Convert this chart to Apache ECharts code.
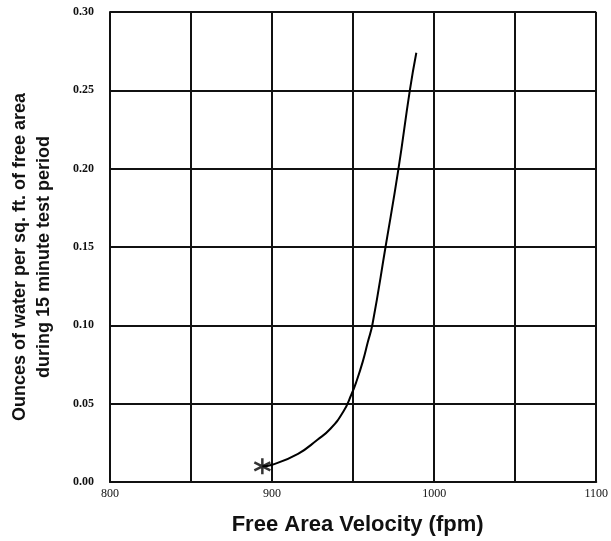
<!DOCTYPE html>
<html>
<head>
<meta charset="utf-8">
<script src="https://cdn.jsdelivr.net/npm/echarts@6/dist/echarts.min.js"></script>
<style>
html,body{margin:0;padding:0;background:#fff;}
#chart{width:611px;height:541px;}
</style>
</head>
<body>
<div id="chart"></div>
<script>
// Data
var velocity = [894, 900, 916, 928, 936, 944, 949, 952, 956, 959, 962, 970, 978, 985, 989];
var water = [0.010, 0.011, 0.018, 0.027, 0.034, 0.045, 0.056, 0.064, 0.077, 0.089, 0.101, 0.150, 0.200, 0.250, 0.274];
var startPoint = [894, 0.010];
var xTicks = [800, 900, 1000, 1100];
var yTicks = [0.00, 0.05, 0.10, 0.15, 0.20, 0.25, 0.30];

var curve = velocity.map(function (v, i) { return [v, water[i]]; });

var chart = echarts.init(document.getElementById('chart'));
chart.setOption({
  animation: false,
  backgroundColor: '#fff',
  grid: { left: 106.5, right: 11.5, top: 12, bottom: 59, containLabel: false },
  xAxis: {
    type: 'value',
    min: 800, max: 1100, interval: 50,
    name: 'Free Area Velocity (fpm)',
    nameLocation: 'middle',
    nameGap: 32,
    nameTextStyle: { fontFamily: 'Liberation Sans', fontWeight: 'bold', fontSize: 22, color: '#111', padding: [0, 0, 0, 9] },
    axisLine: { lineStyle: { color: '#111', width: 2 } },
    axisTick: { show: false },
    splitLine: { show: true, lineStyle: { color: '#111', width: 2 } },
    axisLabel: {
      margin: 6,
      fontFamily: 'Liberation Serif', fontSize: 12, color: '#111',
      formatter: function (v) { return xTicks.indexOf(v) >= 0 ? String(v) : ''; }
    }
  },
  yAxis: {
    type: 'value',
    min: 0, max: 0.3, interval: 0.05,
    name: 'Ounces of water per sq. ft. of free area\nduring 15 minute test period',
    nameLocation: 'middle',
    nameGap: 54,
    nameTextStyle: { fontFamily: 'Liberation Sans', fontWeight: 'bold', fontSize: 18, lineHeight: 24, color: '#111', padding: [0, 20, 0, 0] },
    axisLine: { lineStyle: { color: '#111', width: 2 } },
    axisTick: { show: false },
    splitLine: { show: true, lineStyle: { color: '#111', width: 2 } },
    axisLabel: {
      margin: 16,
      fontFamily: 'Liberation Serif', fontWeight: 'bold', fontSize: 12, color: '#111',
      formatter: function (v) {
        for (var i = 0; i < yTicks.length; i++) { if (Math.abs(yTicks[i] - v) < 1e-9) return yTicks[i].toFixed(2); }
        return '';
      }
    }
  },
  series: [
    {
      type: 'line',
      data: curve,
      smooth: 0.5,
      showSymbol: false,
      lineStyle: { color: '#000', width: 2 },
      z: 3
    },
    {
      type: 'scatter',
      data: [startPoint],
      symbol: 'path://M0 -5 L0 5 M-4.33 -2.5 L4.33 2.5 M-4.33 2.5 L4.33 -2.5',
      symbolSize: 16,
      itemStyle: { color: 'rgba(0,0,0,0)', borderColor: '#000', borderWidth: 2.5 },
      z: 4
    }
  ]
});
</script>
</body>
</html>
